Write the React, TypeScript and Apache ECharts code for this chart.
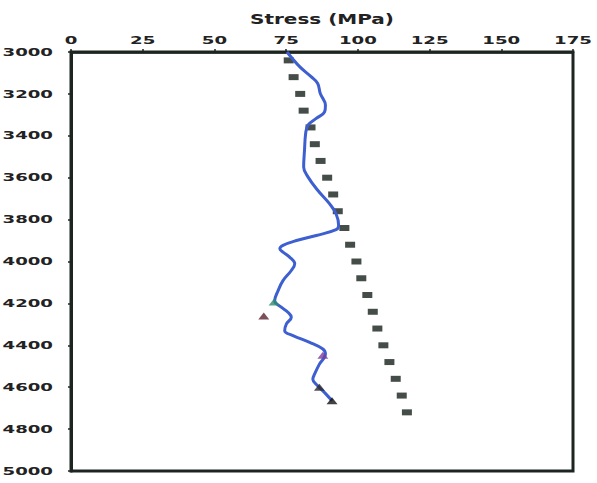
import React, { useEffect, useRef } from "react";
import * as echarts from "echarts";

const xTicks = [0, 25, 50, 75, 100, 125, 150, 175];
const depthTicks = [3000, 3200, 3400, 3600, 3800, 4000, 4200, 4400, 4600, 4800, 5000];
const xTitle = "Stress (MPa)";

// Black rectangular markers
const squareDepths = [3040, 3120, 3200, 3280, 3360, 3440, 3520, 3600, 3680, 3760, 3840, 3920, 4000, 4080, 4160, 4240, 4320, 4400, 4480, 4560, 4640, 4720];
const squareStress = [75.9, 77.6, 79.9, 81.1, 83.5, 85.0, 87.0, 89.3, 91.4, 93.0, 95.3, 97.3, 99.5, 101.2, 103.3, 105.2, 106.8, 108.9, 111.0, 113.2, 115.3, 117.1];

// Blue curve
const curveDepths = [3000, 3070, 3118, 3150, 3198, 3254, 3286, 3317, 3349, 3389, 3469, 3549, 3596, 3660, 3724, 3772, 3828, 3848, 3876, 3900, 3923, 3939, 3955, 3979, 4011, 4043, 4091, 4139, 4187, 4218, 4242, 4266, 4298, 4330, 4354, 4386, 4418, 4442, 4490, 4538, 4562, 4593, 4633, 4665];
const curveStress = [75.3, 79.7, 83.7, 86.0, 86.9, 88.7, 88.4, 85.5, 82.6, 81.8, 81.4, 81.1, 82.6, 86.0, 90.1, 92.4, 93.3, 92.4, 85.5, 78.6, 73.9, 72.8, 73.9, 76.2, 78.0, 76.8, 73.9, 72.2, 71.0, 73.3, 75.6, 76.8, 75.1, 74.5, 77.4, 83.2, 87.8, 88.7, 86.6, 84.9, 84.3, 86.0, 88.9, 91.0];

// Triangle markers
const triStress = [70.8, 67.2, 87.8, 86.6, 91.0];
const triDepths = [4193, 4260, 4447, 4600, 4665];
const triColors = ["#2e8b6e", "#5b2430", "#7b3c9c", "#2a2a2a", "#111111"];

export default function App() {
  const ref = useRef<HTMLDivElement>(null);
  useEffect(() => {
    document.body.style.margin = "0";
    const chart = echarts.init(ref.current!, null, { renderer: "svg" });
    const axisColor = "#1c2520";
    chart.setOption({
      animation: false,
      backgroundColor: "#ffffff",
      grid: {
        left: 71,
        right: 24,
        top: 52,
        bottom: 12,
        show: true,
        borderColor: axisColor,
        borderWidth: 3,
        backgroundColor: "#ffffff",
      },
      xAxis: {
        type: "value",
        position: "top",
        min: xTicks[0],
        max: xTicks[xTicks.length - 1],
        interval: 25,
        axisLine: { show: true, lineStyle: { color: axisColor, width: 2.5 } },
        axisTick: { show: true, length: 3, lineStyle: { color: axisColor, width: 1.5 } },
        axisLabel: { show: false },
        splitLine: { show: false },
      },
      yAxis: {
        type: "value",
        inverse: true,
        min: depthTicks[0],
        max: depthTicks[depthTicks.length - 1],
        interval: 200,
        axisLine: { show: true, lineStyle: { color: axisColor, width: 3 } },
        axisTick: { show: true, length: 3, lineStyle: { color: axisColor, width: 1.5 } },
        axisLabel: { show: false },
        splitLine: { show: false },
      },
      series: [
        {
          type: "scatter",
          data: squareStress.map((s, i) => [s, squareDepths[i]]),
          symbol: "rect",
          symbolSize: [10, 6],
          itemStyle: { color: "#16201b" },
          z: 2,
        },
        {
          type: "line",
          data: curveStress.map((s, i) => [s, curveDepths[i]]),
          smooth: 0.4,
          showSymbol: false,
          lineStyle: { color: "#3d5fd0", width: 3 },
          z: 3,
        },
        {
          type: "scatter",
          data: triStress.map((s, i) => ({
            value: [s, triDepths[i]],
            itemStyle: { color: triColors[i] },
          })),
          symbol: "triangle",
          symbolSize: [11, 7],
          z: 4,
        },
      ],
    });

    // Wide bold tick labels placed at positions given by the axes
    const font = "bold 11px 'DejaVu Sans'";
    const sx = 1.65;
    const graphics: any[] = [];
    xTicks.forEach((v) => {
      const p = chart.convertToPixel({ xAxisIndex: 0, yAxisIndex: 0 }, [v, depthTicks[0]]) as number[];
      graphics.push({
        type: "text",
        x: p[0],
        y: p[1] - 12,
        scaleX: sx,
        style: { text: String(v), font, fill: "#222222", textAlign: "center", textVerticalAlign: "middle" },
      });
    });
    depthTicks.forEach((v) => {
      const p = chart.convertToPixel({ xAxisIndex: 0, yAxisIndex: 0 }, [xTicks[0], v]) as number[];
      graphics.push({
        type: "text",
        x: p[0] - 18,
        y: p[1],
        scaleX: sx,
        style: { text: String(v), font, fill: "#222222", textAlign: "right", textVerticalAlign: "middle" },
      });
    });
    const mid = chart.convertToPixel({ xAxisIndex: 0, yAxisIndex: 0 }, [
      (xTicks[0] + xTicks[xTicks.length - 1]) / 2,
      depthTicks[0],
    ]) as number[];
    graphics.push({
      type: "text",
      x: mid[0],
      y: 19,
      scaleX: 1.43,
      style: { text: xTitle, font: "bold 14px 'DejaVu Sans'", fill: "#222222", textAlign: "center", textVerticalAlign: "middle" },
    });
    chart.setOption({ graphic: graphics });
    return () => chart.dispose();
  }, []);
  return <div ref={ref} style={{ width: 597, height: 483 }} />;
}
